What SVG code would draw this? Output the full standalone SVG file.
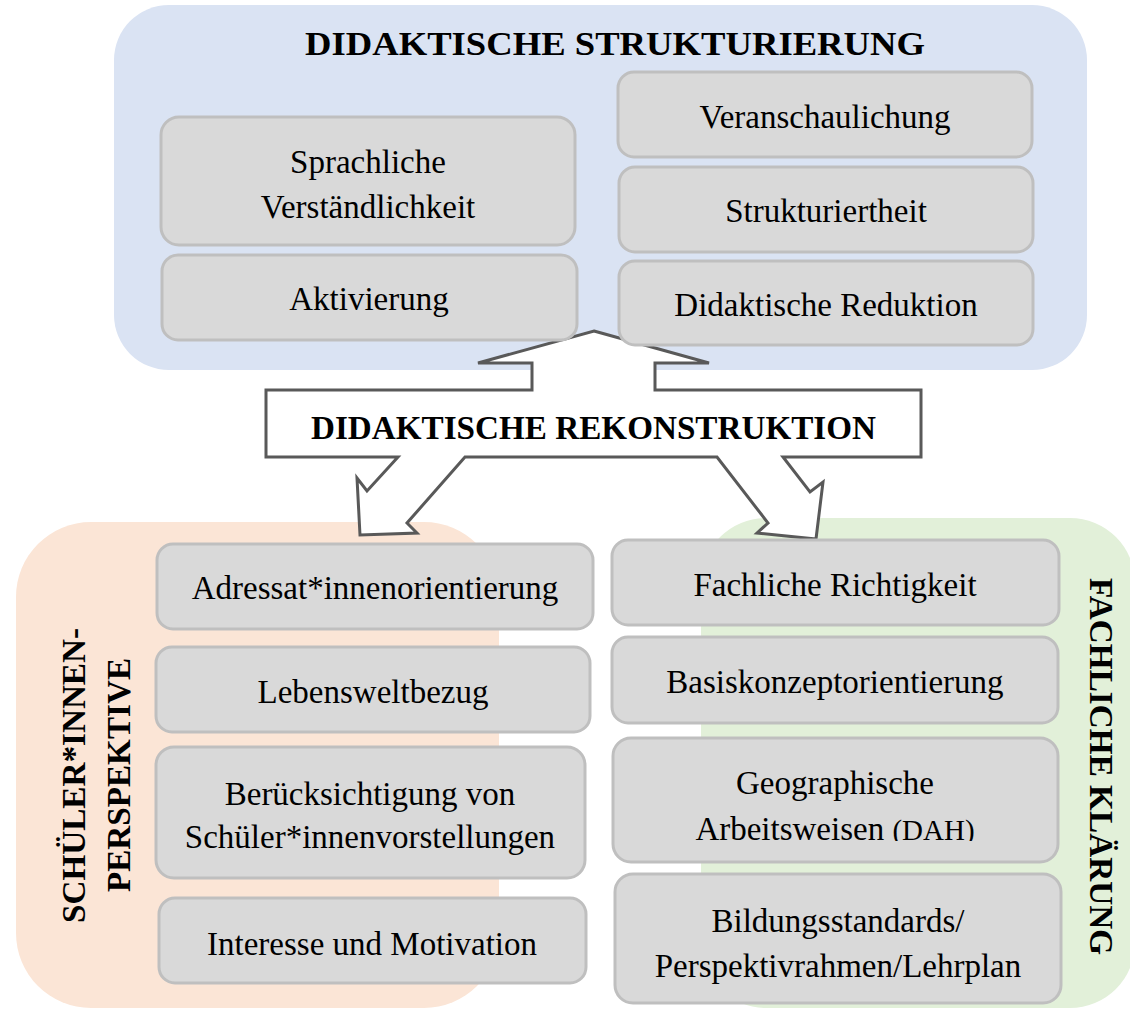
<svg xmlns="http://www.w3.org/2000/svg" width="1130" height="1009" viewBox="0 0 1130 1009">
<style>
.box{fill:#d9d9d9;stroke:#bfbfbf;stroke-width:3}
.t{font-family:"Liberation Serif","Times New Roman",serif;font-size:33px;fill:#000;text-anchor:middle}
.h{font-family:"Liberation Serif","Times New Roman",serif;font-size:33px;font-weight:bold;fill:#000;text-anchor:middle}
</style>
<defs>
<clipPath id="clipGeo"><rect x="613" y="738" width="446" height="103"/></clipPath>
</defs>
<rect width="1130" height="1009" fill="#ffffff"/>
<g id="panel-struktur">
<rect x="114" y="5" width="973" height="365" rx="55" fill="#dae3f3"/>
<text class="h" x="615" y="55" font-size="36" textLength="620" lengthAdjust="spacingAndGlyphs">DIDAKTISCHE STRUKTURIERUNG</text>
</g>
<g id="panel-schueler">
<rect x="16" y="522" width="483" height="486" rx="75" fill="#fbe5d6"/>
<text class="h" transform="translate(85,775.5) rotate(-90)" textLength="295" lengthAdjust="spacingAndGlyphs">SCHÜLER*INNEN-</text>
<text class="h" transform="translate(130,775) rotate(-90)" textLength="234" lengthAdjust="spacingAndGlyphs">PERSPEKTIVE</text>
</g>
<g id="panel-fachlich">
<rect x="701" y="518" width="434" height="490" rx="65" fill="#e2f0d9"/>
<text class="h" transform="translate(1090,766.5) rotate(90)" textLength="377" lengthAdjust="spacingAndGlyphs">FACHLICHE KLÄRUNG</text>
</g>
<g id="connectors">
<polygon points="594,331 709,363 655,363 655,390 921,390 921,457 783,457 810,492 823,482 816,539 757,533 768,523 717,457 465,457 407,523 417,533 360,535 357,478 367,491 398,457 266,457 266,390 532,390 532,363 478,363" fill="#ffffff" stroke="#595959" stroke-width="3" stroke-linejoin="miter"/>
<text class="h" x="593.5" y="439" textLength="565" lengthAdjust="spacingAndGlyphs">DIDAKTISCHE REKONSTRUKTION</text>
</g>
<g id="n-sprachliche">
<rect class="box" x="161" y="117" width="414" height="128" rx="18"/>
<text class="t" x="368" y="173">Sprachliche</text>
<text class="t" x="368" y="218">Verständlichkeit</text>
</g>
<g id="n-aktivierung">
<rect class="box" x="162" y="255" width="415" height="85" rx="16"/>
<text class="t" x="369" y="310">Aktivierung</text>
</g>
<g id="n-veranschaulichung">
<rect class="box" x="618" y="72" width="414" height="85" rx="16"/>
<text class="t" x="825" y="128">Veranschaulichung</text>
</g>
<g id="n-strukturiertheit">
<rect class="box" x="619" y="167" width="414" height="85" rx="16"/>
<text class="t" x="826" y="222">Strukturiertheit</text>
</g>
<g id="n-reduktion">
<rect class="box" x="619" y="261" width="414" height="84" rx="16"/>
<text class="t" x="826" y="316">Didaktische Reduktion</text>
</g>
<g id="n-adressat">
<rect class="box" x="157" y="544" width="436" height="85" rx="16"/>
<text class="t" x="375" y="599">Adressat*innenorientierung</text>
</g>
<g id="n-lebenswelt">
<rect class="box" x="156" y="647" width="434" height="85" rx="16"/>
<text class="t" x="373" y="703">Lebensweltbezug</text>
</g>
<g id="n-beruecksichtigung">
<rect class="box" x="156" y="747" width="429" height="131" rx="18"/>
<text class="t" x="370" y="805">Berücksichtigung von</text>
<text class="t" x="370" y="848">Schüler*innenvorstellungen</text>
</g>
<g id="n-interesse">
<rect class="box" x="159" y="898" width="427" height="85" rx="16"/>
<text class="t" x="372" y="955">Interesse und Motivation</text>
</g>
<g id="n-richtigkeit">
<rect class="box" x="612" y="540" width="447" height="85" rx="16"/>
<text class="t" x="835" y="596">Fachliche Richtigkeit</text>
</g>
<g id="n-basiskonzept">
<rect class="box" x="612" y="637" width="446" height="86" rx="16"/>
<text class="t" x="835" y="693">Basiskonzeptorientierung</text>
</g>
<g id="n-geographisch">
<rect class="box" x="613" y="738" width="445" height="124" rx="18"/>
<text class="t" x="835" y="794">Geographische</text>
<text class="t" x="835" y="840" clip-path="url(#clipGeo)">Arbeitsweisen <tspan font-size="29">(DAH)</tspan></text>
</g>
<g id="n-bildung">
<rect class="box" x="615" y="874" width="446" height="129" rx="18"/>
<text class="t" x="838" y="932">Bildungsstandards/</text>
<text class="t" x="838" y="977">Perspektivrahmen/Lehrplan</text>
</g>
</svg>
